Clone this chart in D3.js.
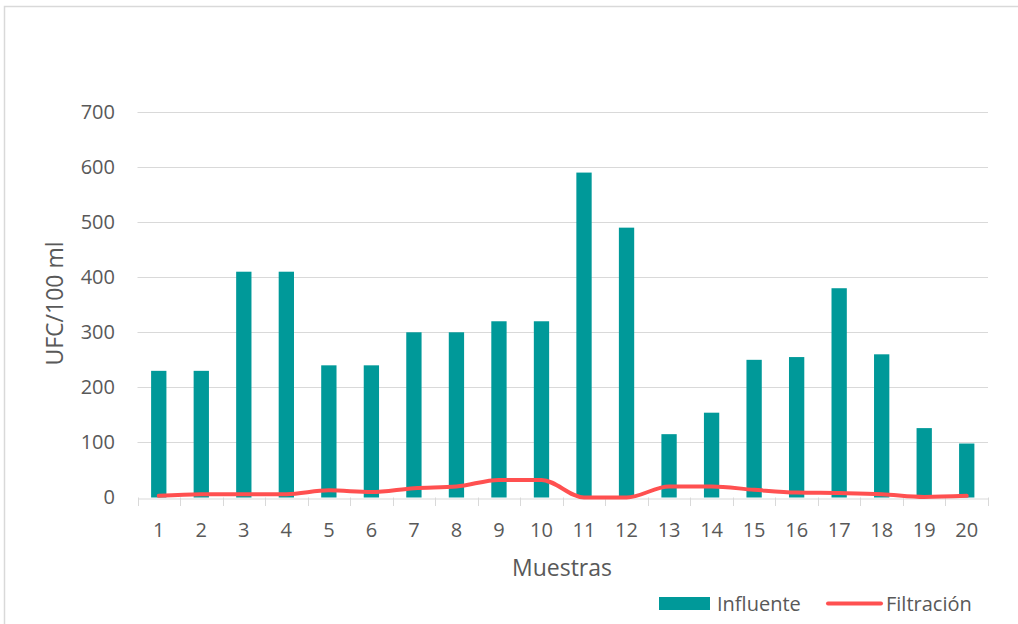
<!DOCTYPE html>
<html><head><meta charset="utf-8">
<script src="https://cdn.jsdelivr.net/npm/d3@7"></script>
<style>body{margin:0;background:#fff}svg{display:block}text{font-family:"Open Sans",sans-serif;fill:#595959}</style>
</head><body>
<svg id="c" width="1018" height="624"></svg>
<script>
const categories = ["1","2","3","4","5","6","7","8","9","10","11","12","13","14","15","16","17","18","19","20"];
const influente = [230,230,410,410,240,240,300,300,320,320,590,490,115,154,250,255,380,260,126,98];
const filtracion = [3,6,6,6,13,10,17,20,32,32,0,0,20,20,14,9,8,6,1,3];
const yTicks = [0,100,200,300,400,500,600,700];

(function(){
const FONT = "'Open Sans', sans-serif";
const svg = d3.select("#c");
svg.append("rect").attr("x",4.5).attr("y",6.5).attr("width",1030).attr("height",640)
  .attr("fill","#fff").attr("stroke","#d9d9d9").attr("stroke-width",1.5);

const pL = 137.5, pR = 988, pT = 112, pB = 497.5;
const x = d3.scaleBand().domain(categories).range([pL,pR]).paddingInner(0.64).paddingOuter(0.32);
const xb = d3.scaleBand().domain(categories).range([pL,pR]);
const y = d3.scaleLinear().domain([0,700]).range([pB,pT]);

svg.append("g").selectAll("line").data(yTicks.filter(d=>d>0)).join("line")
  .attr("x1",pL).attr("x2",pR).attr("y1",d=>Math.round(y(d))+0.5).attr("y2",d=>Math.round(y(d))+0.5)
  .attr("stroke","#d9d9d9").attr("stroke-width",1);

const ya = svg.append("g").attr("transform",`translate(${pL},0)`)
  .call(d3.axisLeft(y).tickValues(yTicks).tickSize(0).tickPadding(22.5));
ya.select(".domain").remove();
ya.selectAll("text").attr("font-size",20).style("fill","#595959").style("font-family",FONT);

svg.append("g").selectAll("rect").data(influente).join("rect")
  .attr("x",(d,i)=>x(categories[i])).attr("width",x.bandwidth())
  .attr("y",d=>y(d)).attr("height",d=>pB-y(d)).attr("fill","#009999");

const xa = svg.append("g").attr("transform",`translate(0,${Math.round(pB)+0.5})`)
  .call(d3.axisBottom(xb).tickSize(0).tickPadding(24));
xa.select(".domain").attr("stroke","#d9d9d9").attr("stroke-width",1);
xa.selectAll("text").attr("font-size",20).style("fill","#595959").style("font-family",FONT);
svg.append("g").selectAll("line").data(d3.range(categories.length+1)).join("line")
  .attr("x1",i=>Math.round(pL+i*xb.step())+0.5).attr("x2",i=>Math.round(pL+i*xb.step())+0.5)
  .attr("y1",pB).attr("y2",pB+8.5).attr("stroke","#d9d9d9");

const line = d3.line().x((d,i)=>xb(categories[i])+xb.bandwidth()/2).y(d=>y(d)).curve(d3.curveMonotoneX);
svg.append("path").datum(filtracion).attr("d",line).attr("fill","none")
  .attr("stroke","#ff5050").attr("stroke-width",4).attr("stroke-linecap","round").attr("stroke-linejoin","round");

svg.append("text").attr("transform","translate(63,303.5) rotate(-90)").attr("text-anchor","middle")
  .attr("font-size",23).text("UFC/100 ml");
svg.append("text").attr("x",562).attr("y",576).attr("text-anchor","middle").attr("font-size",23).text("Muestras");

svg.append("rect").attr("x",659).attr("y",597).attr("width",51).attr("height",13).attr("fill","#009999");
svg.append("text").attr("x",717).attr("y",611).attr("font-size",20).text("Influente");
svg.append("line").attr("x1",828).attr("x2",881).attr("y1",603.5).attr("y2",603.5)
  .attr("stroke","#ff5050").attr("stroke-width",4).attr("stroke-linecap","round");
svg.append("text").attr("x",886).attr("y",611).attr("font-size",20).text("Filtración");
})();
</script>
</body></html>
